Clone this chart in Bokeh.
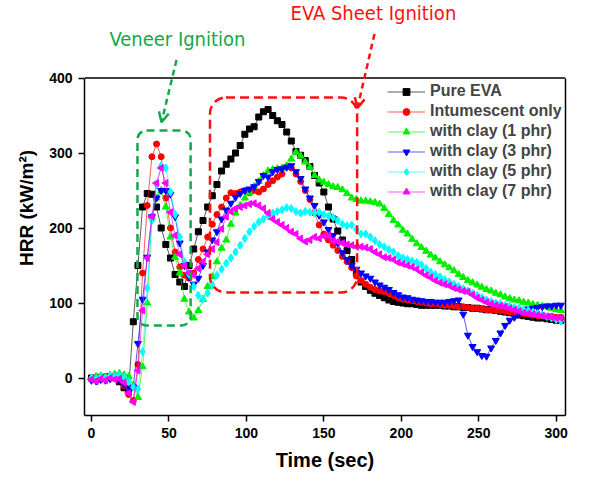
import math
from bokeh.plotting import figure
from bokeh.models import (Range1d, FixedTicker, Label, Arrow, OpenHead, BoxAnnotation,
                          LinearAxis, Span)
from bokeh.embed import file_html
from bokeh.resources import INLINE

# ---------------- data ----------------
time = list(range(0, 304, 3))  # sec

pure_eva = [0, -2, 1, 0, 2, 1, -5, -13, -15, 75,
            150, 228, 246, 245, 228, 200, 178, 160, 138, 128,
            122, 150, 172, 195, 210, 228, 243, 258, 276, 285,
            292, 300, 310, 325, 332, 335, 348, 355, 358, 350,
            343, 338, 328, 316, 302, 297, 290, 282, 270, 260,
            248, 228, 212, 196, 184, 170, 158, 140, 128, 122,
            117, 113, 110, 107, 104, 102, 101, 100, 99, 99,
            98, 97, 97, 97, 97, 97, 96, 96, 95, 95,
            94, 94, 93, 93, 92, 91, 91, 90, 89, 88,
            87, 86, 84, 83, 82, 81, 80, 80, 79, 78,
            77, 77]

intumescent = [-2, 1, 0, 2, 1, 3, 0, -10, -22, -30,
               18, 140, 230, 295, 312, 295, 240, 200, 168, 148,
               137, 133, 140, 158, 172, 188, 205, 218, 228, 240,
               247, 246, 248, 250, 247, 250, 248, 252, 258, 263,
               268, 272, 282, 280, 272, 262, 250, 238, 220, 204,
               192, 184, 177, 170, 162, 155, 147, 136, 130, 125,
               121, 118, 116, 115, 113, 110, 107, 105, 104, 103,
               102, 101, 100, 99, 99, 98, 97, 97, 96, 95,
               95, 94, 93, 93, 92, 91, 91, 90, 90, 89,
               88, 87, 86, 86, 85, 84, 83, 83, 82, 82,
               81, 81]

clay_1 = [0, 2, 3, 1, 4, 5, 6, 4, 2, -10,
          -26, 15, 100, 215, 240, 250, 228, 188, 161, 140,
          105, 88, 80, 90, 105, 122, 135, 155, 173, 184,
          205, 220, 230, 240, 247, 255, 262, 270, 276, 278,
          279, 280, 283, 292, 301, 296, 288, 281, 270, 264,
          261, 258, 255, 254, 251, 246, 240, 238, 236, 236,
          235, 234, 232, 226, 218, 210, 204, 197, 192, 185,
          179, 174, 169, 164, 160, 155, 151, 147, 143, 138,
          134, 130, 127, 124, 121, 118, 116, 113, 111, 108,
          106, 104, 103, 101, 100, 98, 97, 96, 95, 93,
          91, 90]

clay_3 = [-3, -4, -2, -3, -1, 0, -3, -8, -15, -12,
          46, 105, 161, 215, 240, 250, 250, 245, 215, 180,
          150, 135, 125, 133, 150, 168, 184, 195, 212, 224,
          233, 241, 246, 250, 252, 255, 262, 270, 268, 275,
          278, 279, 281, 283, 275, 266, 252, 240, 230, 217,
          208, 198, 190, 180, 167, 158, 150, 145, 140, 136,
          133, 128, 124, 121, 118, 114, 111, 108, 107, 105,
          104, 103, 102, 102, 101, 101, 101, 102, 103, 104,
          85, 57, 42, 35, 30, 29, 40, 50, 60, 70,
          77, 81, 86, 90, 92, 93, 94, 95, 96, 96,
          97, 97]

clay_5 = [0, -1, 2, 0, 3, 2, 4, 1, -5, -12,
          -15, 35, 120, 210, 258, 283, 280, 248, 218, 188,
          155, 138, 122, 110, 105, 113, 124, 137, 145, 153,
          160, 168, 177, 186, 195, 202, 208, 212, 216, 220,
          222, 224, 227, 226, 222, 220, 222, 221, 220, 221,
          218, 216, 214, 210, 205, 203, 204, 198, 192, 192,
          188, 183, 178, 175, 171, 168, 163, 160, 158, 156,
          154, 151, 146, 141, 138, 135, 131, 128, 125, 122,
          119, 116, 113, 110, 107, 104, 102, 100, 99, 97,
          96, 94, 93, 91, 90, 88, 86, 84, 82, 80,
          78, 76]

clay_7 = [-2, -4, -1, -3, 0, -2, -1, -6, -20, -32,
          10, 90, 160, 215, 260, 280, 260, 221, 190, 165,
          150, 140, 137, 146, 155, 165, 172, 181, 199, 215,
          222, 226, 228, 230, 232, 233, 230, 226, 220, 212,
          208, 204, 200, 195, 192, 186, 182, 184, 188, 186,
          189, 190, 183, 182, 180, 178, 177, 175, 175, 174,
          172, 168, 165, 161, 160, 158, 154, 152, 150, 148,
          145, 141, 137, 134, 130, 127, 125, 123, 120, 118,
          116, 115, 111, 107, 104, 101, 99, 97, 96, 95,
          93, 91, 89, 87, 86, 85, 84, 83, 82, 81,
          80, 80]

series_names = ["Pure EVA", "Intumescent only", "with clay (1 phr)",
                "with clay (3 phr)", "with clay (5 phr)", "with clay (7 phr)"]
x_ticks = [0, 50, 100, 150, 200, 250, 300]
y_ticks = [0, 100, 200, 300, 400]
Y_MIN, Y_MAX = -50, 400          # axis extent
X_MIN, X_MAX = -4.5, 306

# annotations, in (time, HRR) units; values above 400 lie in the caption band
veneer_box = dict(left=29.7, right=64, bottom=70, top=330)
sheet_box = dict(left=76.5, right=171.5, bottom=114, top=374)
veneer_text = dict(x=55.5, y=452, text="Veneer Ignition")
sheet_text = dict(x=182, y=487, text="EVA Sheet Ignition")
veneer_arrow = dict(x0=54.9, y0=424, x1=45.2, y1=341)
sheet_arrow = dict(x0=182.7, y0=458.7, x1=171.7, y1=360)

# ---------------- styles ----------------
colors = ["#000000", "#ff0000", "#00ee00", "#0000ff", "#00ffff", "#ff00ff"]
markers = ["square", "circle", "triangle", "inverted_triangle", "diamond", "triangle"]
sizes = [6, 6, 7, 7, 8, 7]
angles = [0, 0, 0, 0, 0, math.pi / 2]
GREEN = "#14a84a"
RED = "#ff1010"
FONT = "Liberation Sans"
CAPTION_FONT = "DejaVu Sans Condensed, Roboto"

# frame spans the whole height so the captions above the axis box are not clipped
PX_PER_UNIT = 0.75
frame_h = 415
p = figure(width=600, height=483, output_backend="svg", toolbar_location=None,
           x_range=Range1d(X_MIN, X_MAX),
           y_range=Range1d(Y_MIN, Y_MIN + frame_h / PX_PER_UNIT),
           min_border_left=84, min_border_right=35, min_border_top=0,
           min_border_bottom=68)
p.xgrid.visible = False
p.ygrid.visible = False
p.outline_line_color = None
p.background_fill_color = "white"
p.border_fill_color = "white"

all_series = [pure_eva, intumescent, clay_1, clay_3, clay_5, clay_7]
for name, ys, c, m, s, a in zip(series_names, all_series, colors, markers, sizes, angles):
    p.line(time, ys, line_color=c, line_width=1, line_alpha=0.65, legend_label=name)
    p.scatter(time, ys, marker=m, size=s, angle=a, fill_color=c, line_color=c,
              legend_label=name)

for ax in (p.xaxis[0], p.yaxis[0]):
    ax.axis_line_width = 1.5
    ax.major_tick_line_width = 1.5
    ax.major_tick_out = 6
    ax.major_tick_in = 0
    ax.minor_tick_out = 0
    ax.minor_tick_in = 0
    ax.major_label_text_font = FONT
    ax.major_label_text_font_style = "bold"
    ax.major_label_text_font_size = "14px"
    ax.major_label_text_color = "black"
    ax.axis_label_text_font = FONT
    ax.axis_label_text_font_style = "bold"
    ax.axis_label_text_font_size = "19px"
    ax.axis_label_text_color = "black"
    ax.major_label_standoff = 6

p.xaxis.ticker = FixedTicker(ticks=x_ticks)
p.yaxis.ticker = FixedTicker(ticks=y_ticks)
p.yaxis.bounds = (Y_MIN, Y_MAX)
p.xaxis.axis_label = "Time (sec)"
p.xaxis.axis_label_text_font_size = "20px"
p.yaxis.axis_label = "HRR (kW/m\u00b2)"
p.xaxis.axis_label_standoff = 8
p.yaxis.axis_label_standoff = 9

# right and top edges of the axis box
rax = LinearAxis(ticker=FixedTicker(ticks=[]), bounds=(Y_MIN, Y_MAX),
                 axis_line_width=1.5, major_label_text_font_size="0px",
                 major_tick_line_color=None, minor_tick_line_color=None)
p.add_layout(rax, "right")
p.add_layout(Span(location=Y_MAX, dimension="width", line_color="black",
                  line_width=1.5))

# dashed rounded boxes
p.add_layout(BoxAnnotation(left=veneer_box["left"], right=veneer_box["right"],
                           bottom=veneer_box["bottom"], top=veneer_box["top"],
                           fill_alpha=0, line_color=GREEN, line_alpha=1, line_width=2.5,
                           line_dash="8 5", border_radius=9))
p.add_layout(BoxAnnotation(left=sheet_box["left"], right=sheet_box["right"],
                           bottom=sheet_box["bottom"], top=sheet_box["top"],
                           fill_alpha=0, line_color=RED, line_alpha=1, line_width=2.5,
                           line_dash="9 5", border_radius=16))

for arr, col in ((veneer_arrow, GREEN), (sheet_arrow, RED)):
    p.add_layout(Arrow(end=OpenHead(size=10, line_color=col, line_width=2.5),
                       x_start=arr["x0"], y_start=arr["y0"],
                       x_end=arr["x1"], y_end=arr["y1"],
                       line_color=col, line_width=2.5, line_dash="6 4"))

for t, col in ((veneer_text, GREEN), (sheet_text, RED)):
    p.add_layout(Label(x=t["x"], y=t["y"], text=t["text"], text_color=col,
                       text_font=CAPTION_FONT, text_font_size="20px",
                       text_align="center", text_baseline="middle"))

lg = p.legend[0]
lg.location = (303, 215)
lg.margin = 0
lg.padding = 5
lg.border_line_color = None
lg.background_fill_alpha = 0
lg.label_text_font = FONT
lg.label_text_font_style = "bold"
lg.label_text_font_size = "16px"
lg.glyph_width = 38
lg.glyph_height = 17
lg.label_height = 17
lg.spacing = 2
lg.label_standoff = 5

open("out.html", "w").write(file_html(p, INLINE))
